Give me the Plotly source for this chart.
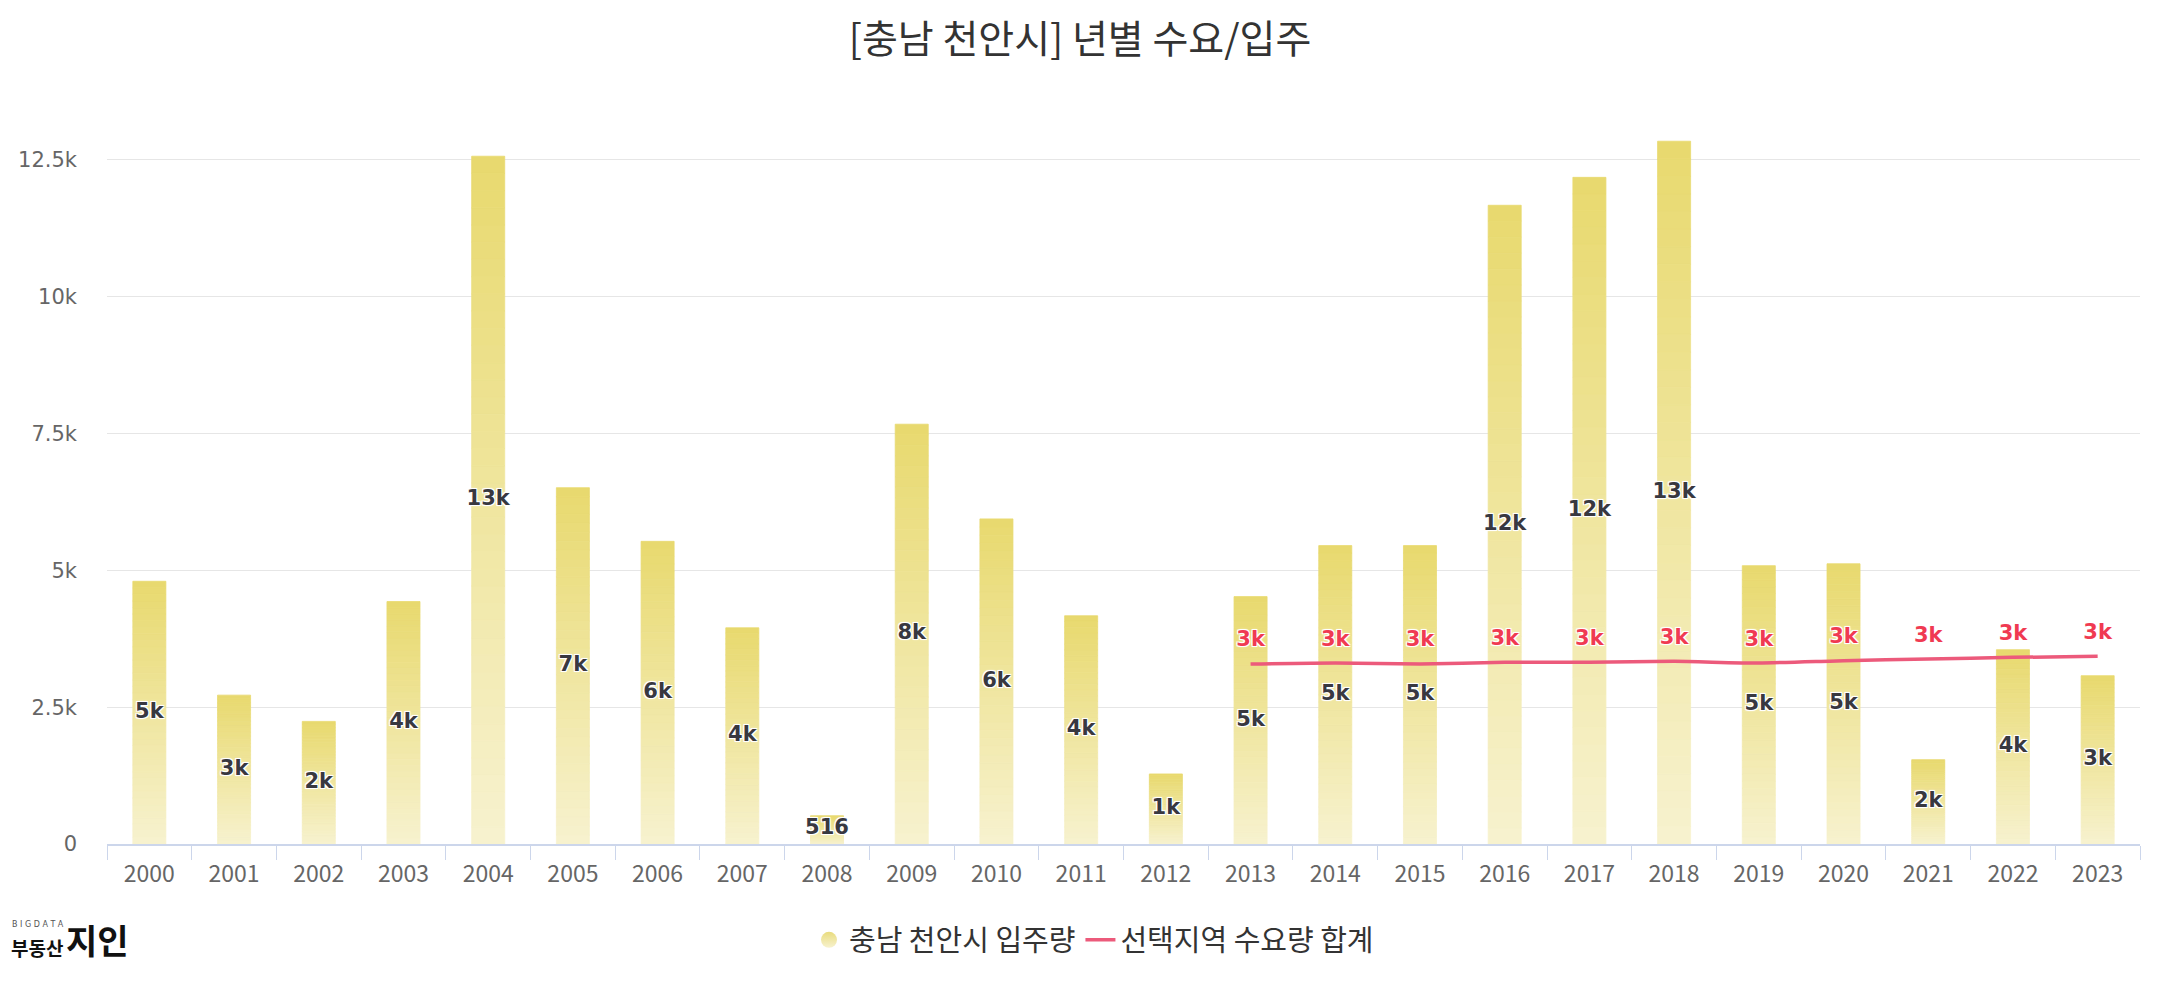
import plotly.graph_objects as go

# ---------------- data ----------------
years = [str(y) for y in range(2000, 2024)]
supply = [4800, 2720, 2240, 4430, 12566, 6510, 5530, 3950, 516, 7670, 5940, 4170,
          1280, 4520, 5452, 5452, 11670, 12180, 12840, 5085, 5120, 1541, 3550, 3075]
demand_years = [str(y) for y in range(2013, 2024)]
demand = [3289, 3307, 3289, 3319, 3319, 3337, 3307, 3350, 3380, 3410, 3429]
ytick_vals = [0, 2500, 5000, 7500, 10000, 12500]
ytick_text = ["0", "2.5k", "5k", "7.5k", "10k", "12.5k"]
title_text = "[충남 천안시] 년별 수요/입주"
name_supply = "충남 천안시 입주량"
name_demand = "선택지역 수요량 합계"


def fmt(v):
    if v >= 1000:
        return f"{int(v / 1000 + 0.5)}k"
    return str(v)


# ---------------- layout constants (page pixels) ----------------
OFF = 8                      # default body margin of the html page
PW, PH = 2160, 1000
PL, PR, PT, PB = 107, 2140, 127, 844   # plot box in page pixels
W, H = PW - OFF, PH - OFF
L, R, T, B = PL - OFF, PW - PR, PT - OFF, PH - PB
YMAX = 13100
plot_w = PR - PL
plot_h = PB - PT


def xp(px):
    return (px - PL) / plot_w


def yp(py):
    return (PB - py) / plot_h


def cy(py):
    return 1 - (py - OFF) / H


TOP = (232, 217, 110)
BOT = (247, 242, 207)
N = 40


def lerp(a, b, t):
    return "rgb(%d,%d,%d)" % tuple(round(a[i] + (b[i] - a[i]) * t) for i in range(3))


# gradient bars: each bar split into N stacked slices, coloured light (bottom) -> dark (top)
gx, gy, gb, gc = [], [], [], []
for i in range(N):
    t = (i + 0.5) / N
    col = lerp(BOT, TOP, t)
    for x, v in zip(years, supply):
        gx.append(x)
        gy.append(v / N)
        gb.append(v * i / N)
        gc.append(col)

fig = go.Figure()
fig.add_trace(go.Bar(
    x=gx, y=gy, base=gb, width=0.39,
    marker=dict(color=gc, line=dict(width=0.8, color=gc)),
    showlegend=False, hoverinfo="skip",
))

outline_white = ("-1px -1px 0 #fff, 1px -1px 0 #fff, -1px 1px 0 #fff, 1px 1px 0 #fff, "
                 "0 0 3px #fff")

# bar data labels (centered on bar)
fig.add_trace(go.Scatter(
    x=years, y=[max(v / 2, 270) for v in supply], mode="text",
    text=[fmt(v) for v in supply],
    textfont=dict(family="DejaVu Sans", size=21, color="#383840", weight="bold",
                  shadow=outline_white),
    showlegend=False, hoverinfo="skip",
))

# legend proxy for bars
fig.add_trace(go.Scatter(
    x=[None], y=[None], mode="markers", name=name_supply,
    marker=dict(symbol="circle", size=27, color="#e9dc7e",
                gradient=dict(type="vertical", color="#f7f2cf")),
))

# demand line
fig.add_trace(go.Scatter(
    x=demand_years, y=demand, mode="lines", name=name_demand,
    line=dict(color="#ec5a7b", width=3.5, shape="spline", smoothing=0.6),
    hoverinfo="skip",
))
fig.add_trace(go.Scatter(
    x=demand_years, y=demand, mode="markers+text", showlegend=False,
    marker=dict(size=18, opacity=0),
    text=[fmt(v) for v in demand], textposition="top center",
    textfont=dict(family="DejaVu Sans", size=21, color="#f03a52", weight="bold",
                  shadow=outline_white),
    hoverinfo="skip",
))

annotations = [
    dict(text="B I G D A T A", x=xp(10), y=yp(924), xref="paper", yref="paper",
         xanchor="left", yanchor="middle", showarrow=False,
         font=dict(family="DejaVu Sans", size=8, color="#555")),
    dict(text="<b>부동산</b>", x=xp(9), y=yp(947), xref="paper", yref="paper",
         xanchor="left", yanchor="middle", showarrow=False,
         font=dict(family="Noto Sans CJK KR", size=19, color="#111")),
    dict(text="<b>지인</b>", x=xp(64), y=yp(940), xref="paper", yref="paper",
         xanchor="left", yanchor="middle", showarrow=False,
         font=dict(family="Noto Sans CJK KR", size=34, color="#111")),
]

fig.update_layout(
    width=W, height=H,
    paper_bgcolor="white", plot_bgcolor="white",
    margin=dict(l=L, r=R, t=T, b=B, autoexpand=False),
    title=dict(text=title_text, x=(PW / 2 - OFF) / W, xref="container", xanchor="center",
               y=cy(39), yref="container", yanchor="middle",
               font=dict(family="Noto Sans CJK KR", size=39, color="#333")),
    barmode="overlay",
    showlegend=True,
    legend=dict(orientation="h", x=(1094 - OFF) / W, xref="container", xanchor="center",
                y=cy(940), yref="container", yanchor="middle",
                font=dict(family="Noto Sans CJK KR", size=29, color="#333"),
                itemwidth=30, traceorder="normal"),
    xaxis=dict(type="category", categoryorder="array", categoryarray=years,
               tickson="boundaries", ticks="outside", ticklen=14, tickcolor="#ccd6eb",
               tickwidth=1, showline=True, linecolor="#ccd6eb", linewidth=2,
               showgrid=False, range=[-0.5, len(years) - 0.5], automargin=False,
               ticklabelstandoff=8,
               tickfont=dict(family="Noto Sans CJK KR", size=23, color="#666")),
    yaxis=dict(range=[0, YMAX], tickvals=ytick_vals, ticktext=ytick_text,
               showgrid=True, gridcolor="#e6e6e6", gridwidth=1, zeroline=False,
               showline=False, ticks="", ticklabelstandoff=29, automargin=False,
               tickfont=dict(family="DejaVu Sans", size=21, color="#666")),
    annotations=annotations,
)

fig.write_html("out.html")
